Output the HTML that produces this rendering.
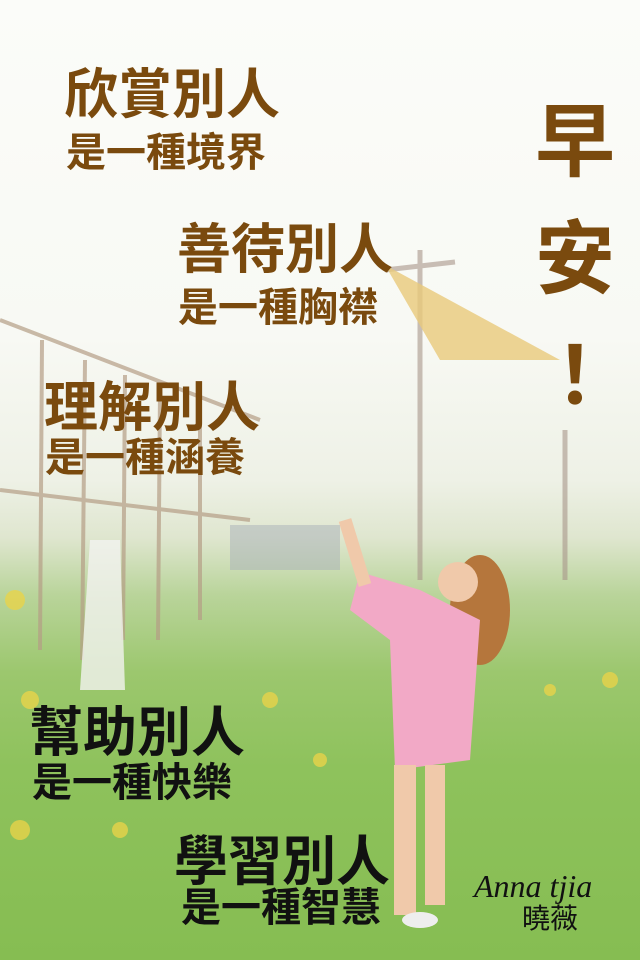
<!DOCTYPE html>
<html><head><meta charset="utf-8">
<style>
html,body{margin:0;padding:0}
body{width:640px;height:960px;overflow:hidden;position:relative;font-family:"Liberation Sans","Noto Sans CJK TC",sans-serif}
.bg{position:absolute;inset:0;background:linear-gradient(180deg,#fbfcf9 0%,#f8f9f4 35%,#eef1e6 50%,#dfe6cf 56%,#b9d49a 62%,#9cc76e 70%,#8ec25c 80%,#86bd52 100%)}
.t{position:absolute;font-weight:bold;white-space:nowrap;line-height:1}
.b{color:#7a4a0e}
.k{color:#111}
.big{font-size:54px}
.sm{font-size:40px}
</style></head><body>
<div class="bg"></div>
<svg width="640" height="960" style="position:absolute;left:0;top:0">
  <g stroke="#b59e86" stroke-width="4" opacity="0.7" fill="none">
    <line x1="0" y1="320" x2="260" y2="420"/>
    <line x1="0" y1="490" x2="250" y2="520"/>
    <line x1="42" y1="340" x2="40" y2="650"/>
    <line x1="85" y1="360" x2="82" y2="660"/>
    <line x1="125" y1="375" x2="123" y2="640"/>
    <line x1="160" y1="390" x2="158" y2="640"/>
    <line x1="200" y1="400" x2="200" y2="620"/>
  </g>
  <g stroke="#a8968a" stroke-width="5" opacity="0.6">
    <line x1="420" y1="250" x2="420" y2="580"/>
    <line x1="385" y1="270" x2="455" y2="262"/>
    <line x1="565" y1="430" x2="565" y2="580"/>
  </g>
  <polygon points="385,265 560,360 440,360" fill="#e8c97a" opacity="0.8"/>
  <rect x="230" y="525" width="110" height="45" fill="#a7b0b8" opacity="0.5"/>
  <path d="M90 540 L120 540 L125 690 L80 690 Z" fill="#f2f2f0" opacity="0.8"/>
  <g>
    <ellipse cx="480" cy="610" rx="30" ry="55" fill="#b5763c"/>
    <circle cx="458" cy="582" r="20" fill="#f0c9aa"/>
    <path d="M360 572 L420 590 L480 620 L470 760 L395 770 L390 640 L350 610 Z" fill="#f2a9c6"/>
    <rect x="394" y="765" width="22" height="150" fill="#f0c9aa"/>
    <rect x="425" y="765" width="20" height="140" fill="#f0c9aa"/>
    <line x1="345" y1="520" x2="365" y2="585" stroke="#f0c9aa" stroke-width="13"/>
    <ellipse cx="420" cy="920" rx="18" ry="8" fill="#eee"/>
  </g>
  <g fill="#e8d34a" opacity="0.8">
    <circle cx="15" cy="600" r="10"/><circle cx="30" cy="700" r="9"/><circle cx="20" cy="830" r="10"/>
    <circle cx="270" cy="700" r="8"/><circle cx="320" cy="760" r="7"/><circle cx="610" cy="680" r="8"/>
    <circle cx="550" cy="690" r="6"/><circle cx="120" cy="830" r="8"/>
  </g>
</svg>
<div class="t b big" style="left:64px;top:68px">欣賞別人</div>
<div class="t b sm" style="left:66px;top:133px">是一種境界</div>
<div class="t b big" style="left:177px;top:223px">善待別人</div>
<div class="t b sm" style="left:178px;top:288px">是一種胸襟</div>
<div class="t b big" style="left:44px;top:381px">理解別人</div>
<div class="t b sm" style="left:45px;top:438px">是一種涵養</div>
<div class="t b" style="left:533px;top:84px;font-size:80px;line-height:117px;width:84px;text-align:center;white-space:normal">早<br>安<br>！</div>
<div class="t k big" style="left:29px;top:706px">幫助別人</div>
<div class="t k sm" style="left:32px;top:763px">是一種快樂</div>
<div class="t k big" style="left:174px;top:835px">學習別人</div>
<div class="t k sm" style="left:181px;top:888px">是一種智慧</div>
<div class="t k" style="left:474px;top:870px;font-family:'Liberation Serif',serif;font-style:italic;font-weight:normal;font-size:32px">Anna tjia</div>
<div class="t k" style="left:522px;top:905px;font-size:28px;font-weight:normal">曉薇</div>
</body></html>
